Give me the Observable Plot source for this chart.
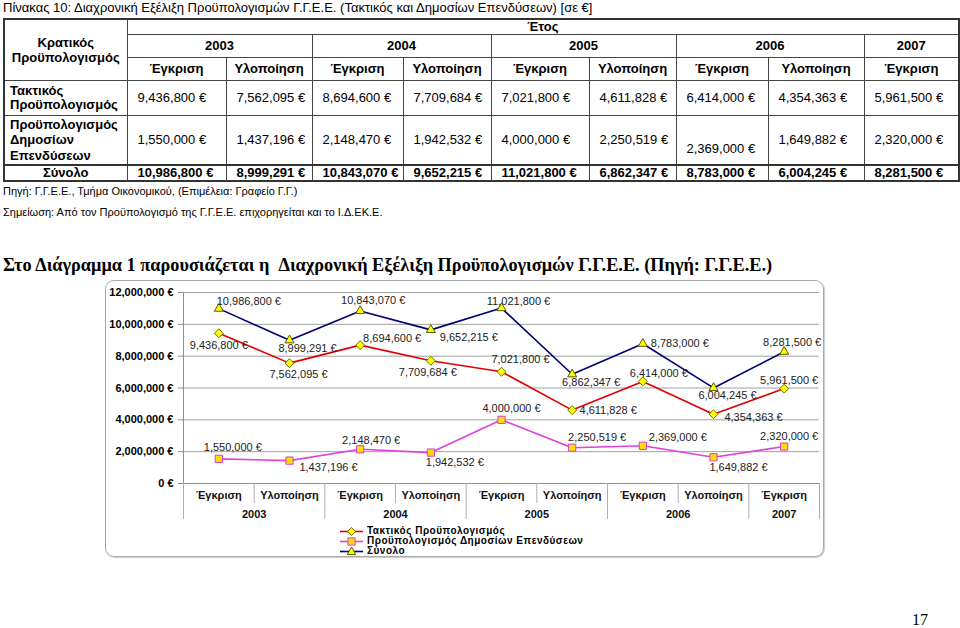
<!DOCTYPE html>
<html><head><meta charset="utf-8">
<script src="https://cdn.jsdelivr.net/npm/d3@7"></script>
<script src="https://cdn.jsdelivr.net/npm/@observablehq/plot@0.6"></script>
<style>
body{margin:0;width:960px;height:628px;position:relative;background:#fff;font-family:"Liberation Sans",Arial,sans-serif;color:#000;overflow:hidden}
.abs{position:absolute;white-space:nowrap}
#title{left:3px;top:0;font-size:13px;line-height:16px}
#tbl{position:absolute;left:3px;top:18px;border-collapse:collapse;table-layout:fixed;font-size:13px;line-height:14px;border:2px solid #333;width:955px}
#tbl td{border:1px solid #444;padding:0 0 0 10px;white-space:nowrap;vertical-align:middle}
#tbl td.h{font-weight:bold;text-align:center;padding:0}
#tbl td.lab{font-weight:bold;padding-left:5px}
#tbl tr.tot td{font-weight:bold;border-top:2px solid #333}
#src{left:3px;top:184px;font-size:11px;line-height:14px}
#note{left:3px;top:205px;font-size:11px;line-height:14px}
#heading{left:3px;top:254px;font-family:"Liberation Serif","Times New Roman",serif;font-weight:bold;font-size:18.3px;line-height:22px}
#frame{left:105px;top:280px;width:717px;height:275px;border:1px solid #a8a8a8;border-radius:9px;box-shadow:1px 1px 1px #ccc}
#chart{left:105px;top:280px}
#legend{left:340px;top:526px;font-size:10px;letter-spacing:0.5px;font-weight:bold;line-height:10px}
#legend div{height:10px;display:flex;align-items:center}
#legend svg{margin-right:4px;overflow:visible}
#pnum{left:912px;top:611px;font-family:"Liberation Serif","Times New Roman",serif;font-size:16px}
</style></head>
<body>
<div id="title" class="abs">Πίνακας 10: Διαχρονική Εξέλιξη Προϋπολογισμών Γ.Γ.Ε.Ε. (Τακτικός και Δημοσίων Επενδύσεων) [σε €]</div>
<table id="tbl"></table>
<div id="src" class="abs">Πηγή: Γ.Γ.Ε.Ε., Τμήμα Οικονομικού, (Επιμέλεια: Γραφείο Γ.Γ.)</div>
<div id="note" class="abs">Σημείωση: Από τον Προϋπολογισμό της Γ.Γ.Ε.Ε. επιχορηγείται και το Ι.Δ.ΕΚ.Ε.</div>
<div id="heading" class="abs">Στο Διάγραμμα 1 παρουσιάζεται η &nbsp;Διαχρονική Εξέλιξη Προϋπολογισμών Γ.Γ.Ε.Ε. (Πηγή: Γ.Γ.Ε.Ε.)</div>
<div id="frame" class="abs"></div>
<div id="chart" class="abs"></div>
<div id="legend" class="abs"></div>
<div id="pnum" class="abs">17</div>
<script>
// ---------- data ----------
const categories = ["Έγκριση","Υλοποίηση","Έγκριση","Υλοποίηση","Έγκριση","Υλοποίηση","Έγκριση","Υλοποίηση","Έγκριση"];
const categoryYears = ["2003","2003","2004","2004","2005","2005","2006","2006","2007"];
const years = ["2003","2004","2005","2006","2007"];
const tactical = [9436800, 7562095, 8694600, 7709684, 7021800, 4611828, 6414000, 4354363, 5961500];
const publicInv = [1550000, 1437196, 2148470, 1942532, 4000000, 2250519, 2369000, 1649882, 2320000];
const totals = [10986800, 8999291, 10843070, 9652215, 11021800, 6862347, 8783000, 6004245, 8281500];
const seriesNames = ["Τακτικός Προϋπολογισμός", "Προϋπολογισμός Δημοσίων Επενδύσεων", "Σύνολο"];
const rowLabels = ["Τακτικός<br>Προϋπολογισμός", "Προϋπολογισμός<br>Δημοσίων<br>Επενδύσεων", "Σύνολο"];
const yTicks = [0, 2000000, 4000000, 6000000, 8000000, 10000000, 12000000];

// ---------- styles (label nudges in px) ----------
const nudgeTactical = [[0,12],[9,11],[32,-7],[-3,12],[19,-12],[36,0],[16,-8],[40,3],[5,-8]];
const nudgePublic = [[14,-11],[39,7],[11,-9],[24,10],[10,-11],[25,-10],[35,-8],[25,10],[5,-10]];
const nudgeTotal = [[30,-7],[18,8],[13,-10],[38,8],[17,-7],[19,8],[37,0],[14,8],[8,-9]];

const fmt = d3.format(",");
const eur = d => fmt(d) + " €";

// ---------- table ----------
const tbl = document.getElementById("tbl");
const colW = [123, 99, 86, 91, 88, 98, 87, 92, 96, 95];
let html = "<colgroup>" + colW.map(w => `<col style="width:${w}px">`).join("") + "</colgroup>";
html += `<tr style="height:14px"><td class="h" rowspan="3" style="line-height:15px">Κρατικός<br>Προϋπολογισμός</td><td class="h" colspan="${categories.length}">Έτος</td></tr>`;
html += `<tr style="height:23px">` + years.map(y => `<td class="h" colspan="${categoryYears.filter(c => c === y).length}">${y}</td>`).join("") + "</tr>";
html += `<tr style="height:23px">` + categories.map(c => `<td class="h">${c}</td>`).join("") + "</tr>";
html += `<tr style="height:35px"><td class="lab">${rowLabels[0]}</td>` + tactical.map(v => `<td>${eur(v)}</td>`).join("") + "</tr>";
html += `<tr style="height:49px"><td class="lab" style="line-height:15.5px">${rowLabels[1]}</td>` + publicInv.map((v, i) => `<td${i === 6 ? ' style="vertical-align:bottom;padding-bottom:8px"' : ''}>${eur(v)}</td>`).join("") + "</tr>";
html += `<tr class="tot" style="height:15px"><td class="h" style="border-top:2px solid #333">${rowLabels[2]}</td>` + totals.map(v => `<td>${eur(v)}</td>`).join("") + "</tr>";
tbl.innerHTML = html;

// ---------- chart ----------
const idx = categories.map((_, i) => i);
const yearCenters = years.map(y => {
  const ii = idx.filter(i => categoryYears[i] === y);
  return {year: y, x: d3.mean(ii)};
});
const shortSeps = [], longSeps = [-0.5, categories.length - 0.5];
for (let i = 0; i < categories.length - 1; i++) {
  (categoryYears[i] === categoryYears[i + 1] ? shortSeps : longSeps).push(i + 0.5);
}
const series = [
  {name: seriesNames[0], values: tactical, nudge: nudgeTactical, stroke: "#e00000", symbol: "diamond2", r: 4, fill: "#ffff00", mstroke: "#6b6b00"},
  {name: seriesNames[1], values: publicInv, nudge: nudgePublic, stroke: "#e040e0", symbol: "square2", r: 4.6, fill: "#ffdd00", mstroke: "#d040d0"},
  {name: seriesNames[2], values: totals, nudge: nudgeTotal, stroke: "#000070", symbol: "triangle2", r: 4.3, fill: "#ffff00", mstroke: "#5a5a00"}
];

const marks = [
  Plot.gridY(yTicks.slice(1), {stroke: "#a0a0a0", strokeOpacity: 1}),
  Plot.axisY(yTicks, {tickFormat: eur, tickSize: 5, tickPadding: 5, fontWeight: "bold", fontSize: 11, label: null, stroke: "#909090"}),
  Plot.ruleX([-0.5], {stroke: "#909090"}),
  Plot.ruleY([0], {stroke: "#909090"}),
  Plot.ruleX(shortSeps, {x: d => d, y1: 0, y2: 0, insetBottom: -20, stroke: "#b0b0b0"}),
  Plot.ruleX(longSeps, {x: d => d, y1: 0, y2: 0, insetBottom: -36, stroke: "#b0b0b0"}),
  Plot.text(categories, {x: (d, i) => i, y: () => 0, text: d => d, dy: 12, fontWeight: "bold", fontSize: 11, fill: "#111"}),
  Plot.text(yearCenters, {x: "x", y: () => 0, text: "year", dy: 31, fontWeight: "bold", fontSize: 11, fill: "#111"})
];
for (const s of series) {
  const data = s.values.map((v, i) => ({i, v}));
  marks.push(Plot.line(data, {x: "i", y: "v", stroke: s.stroke, strokeWidth: 1.6}));
}
for (const s of series) {
  const data = s.values.map((v, i) => ({i, v}));
  marks.push(Plot.dot(data, {x: "i", y: "v", symbol: s.symbol, r: s.r, fill: s.fill, stroke: s.mstroke, strokeWidth: 1}));
  data.forEach((d, k) => {
    marks.push(Plot.text([d], {x: "i", y: "v", text: dd => eur(dd.v), dx: s.nudge[k][0], dy: s.nudge[k][1], fontSize: 11, fill: "#222"}));
  });
}

const chart = Plot.plot({
  width: 720, height: 276,
  marginLeft: 78, marginRight: 6, marginTop: 12, marginBottom: 73,
  x: {type: "linear", domain: [-0.5, categories.length - 0.5], axis: null},
  y: {domain: [0, 12000000], axis: null},
  style: {fontFamily: "'Liberation Sans', Arial, sans-serif", background: "transparent", overflow: "visible"},
  marks
});
document.getElementById("chart").appendChild(chart);

// ---------- legend ----------
const legend = document.getElementById("legend");
const symPath = {diamond2: "M0,-4L4,0L0,4L-4,0Z", square2: "M-3.6,-3.6H3.6V3.6H-3.6Z", triangle2: "M0,-4.5L4.2,3L-4.2,3Z"};
series.forEach(s => {
  const row = document.createElement("div");
  row.innerHTML = `<svg width="23" height="9" viewBox="0 -4.5 23 9"><line x1="0" x2="23" y1="0" y2="0" stroke="${s.stroke}" stroke-width="1.6"/><path transform="translate(11.5,0)" d="${symPath[s.symbol]}" fill="${s.fill}" stroke="${s.mstroke}"/></svg><span>${s.name}</span>`;
  legend.appendChild(row);
});
</script>
</body></html>
